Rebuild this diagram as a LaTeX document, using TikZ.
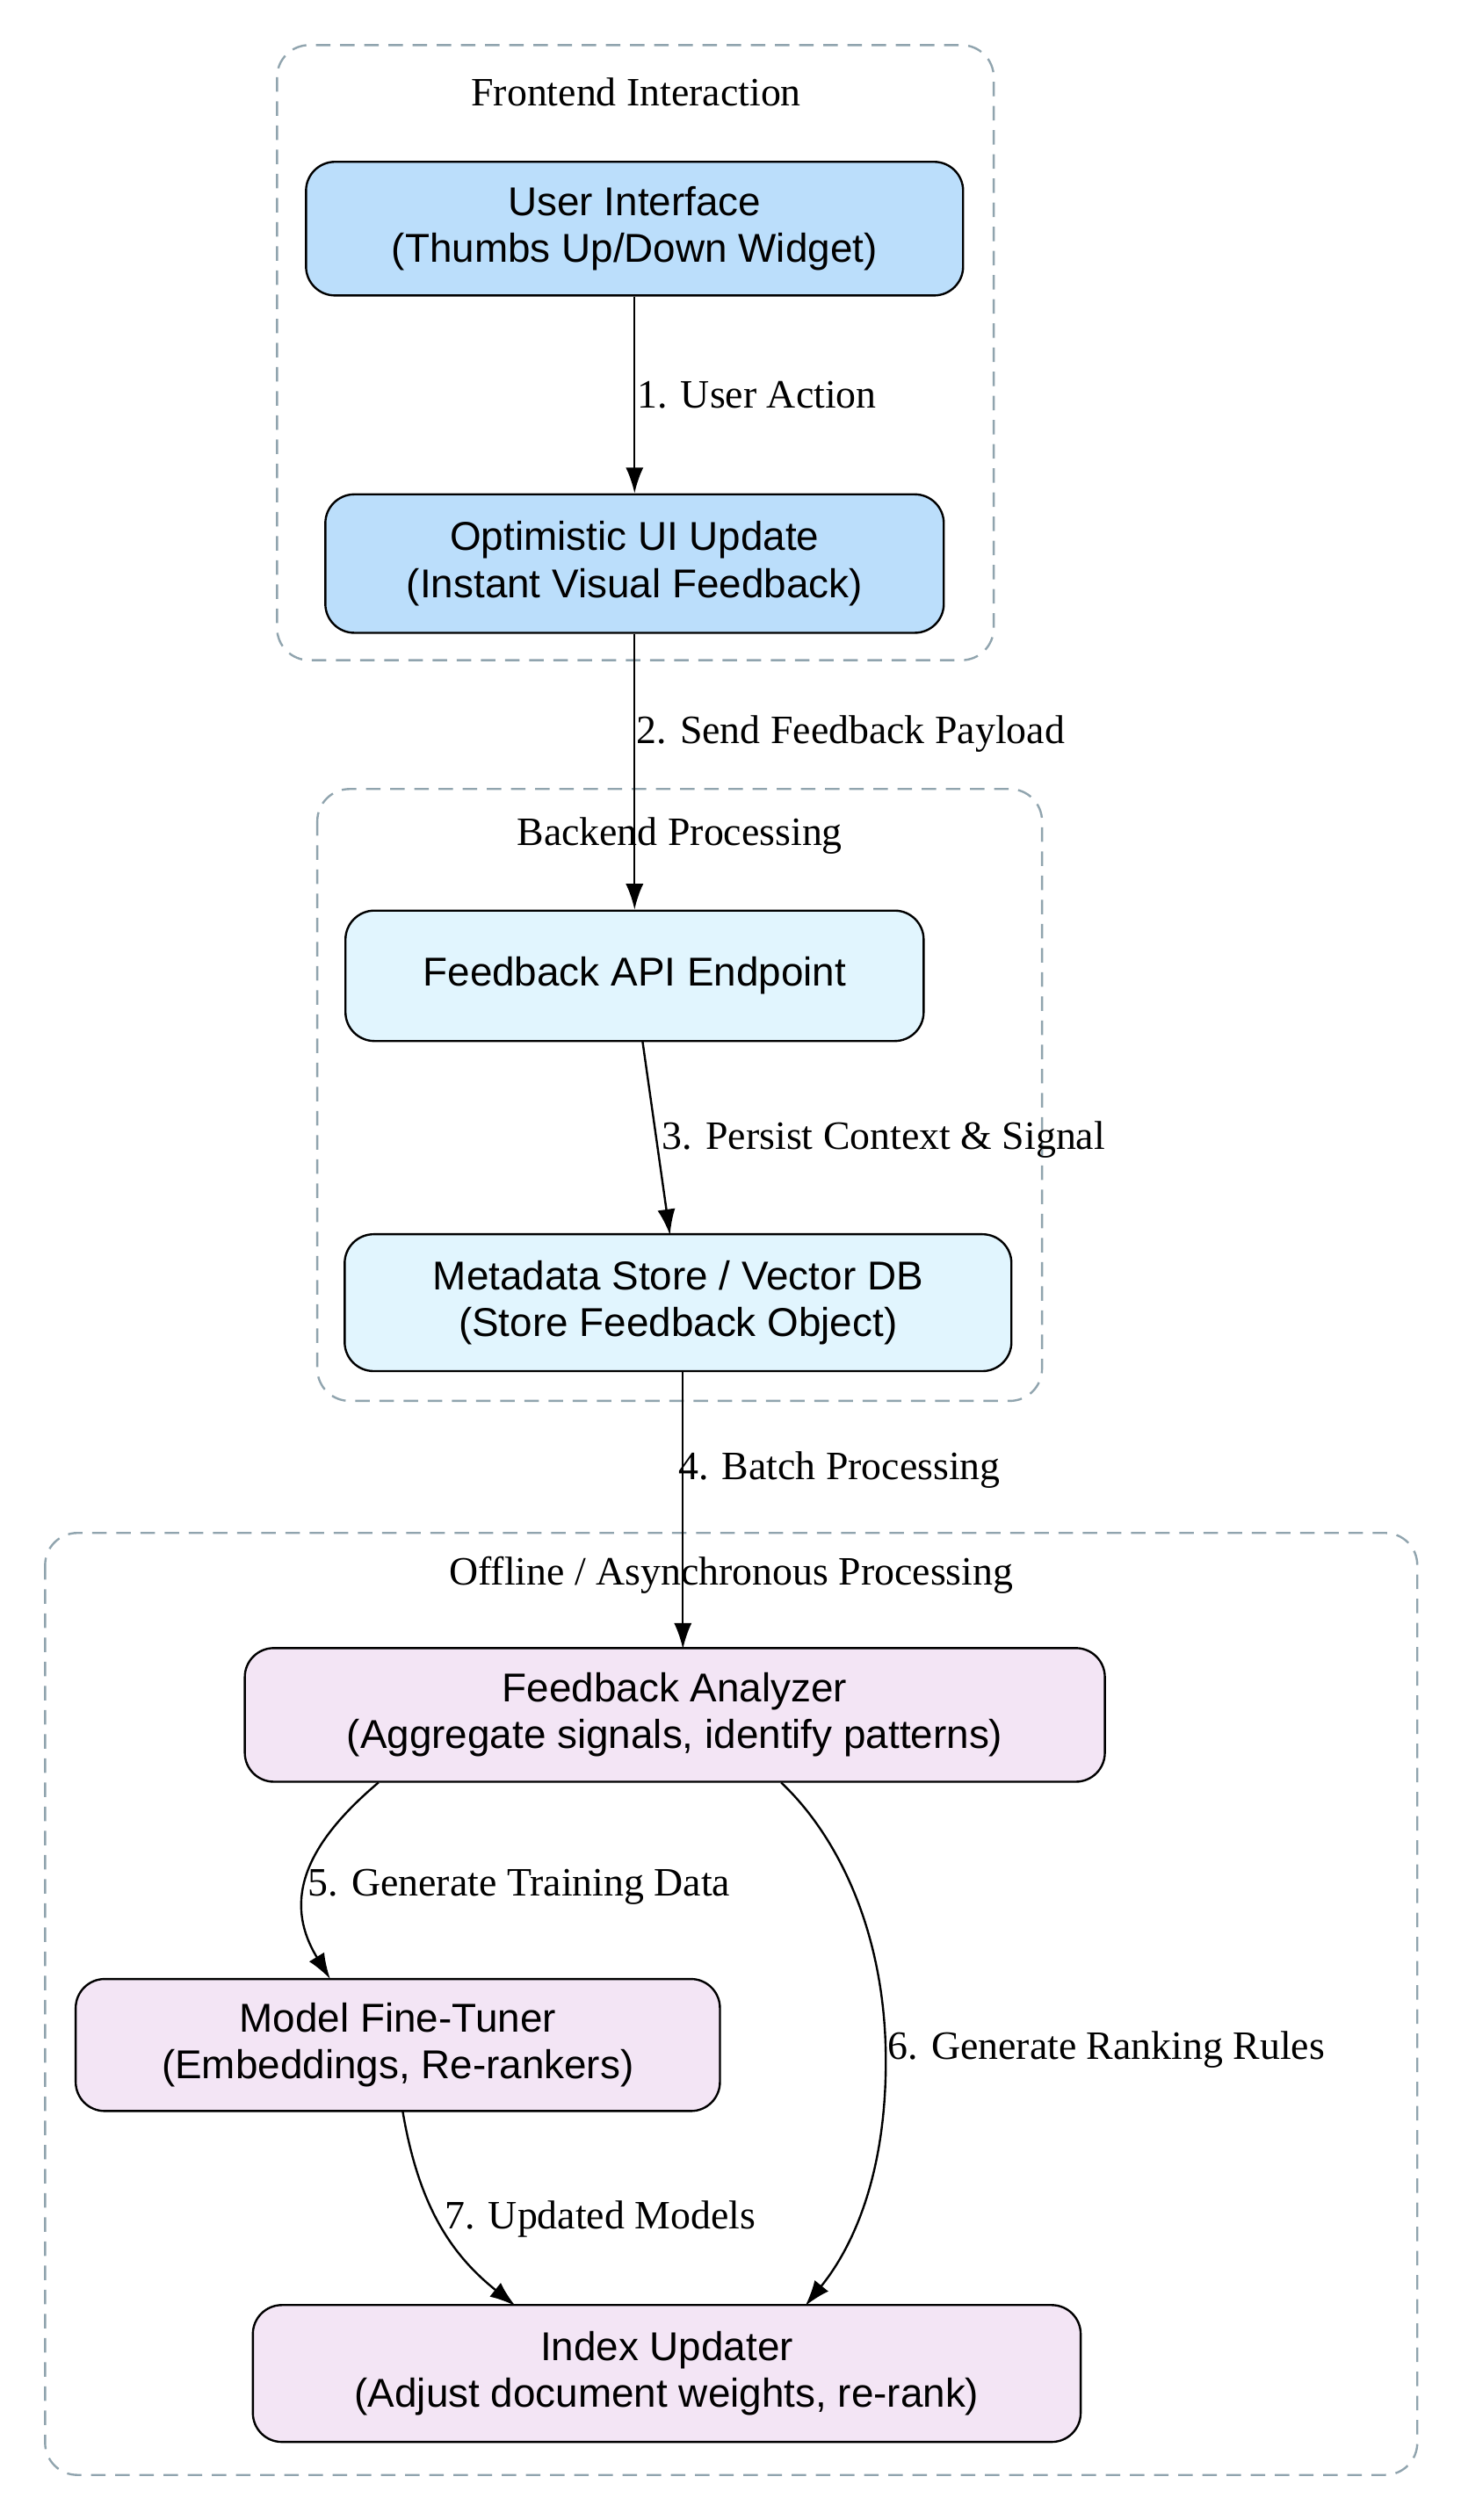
\documentclass[tikz,border=0pt]{standalone}
\usepackage{fontspec}
\setmainfont{Liberation Serif}
\newfontfamily\nodefont{Liberation Sans}
\usetikzlibrary{arrows.meta}
\definecolor{cA}{HTML}{BBDEFB}
\definecolor{cB}{HTML}{E1F5FE}
\definecolor{cC}{HTML}{F3E5F5}
\definecolor{clus}{HTML}{90A4AE}
\begin{document}
\begin{tikzpicture}[x=1pt,y=-1pt,
  box/.style={draw,line width=1.3pt,rounded corners=18pt,inner sep=0pt,align=center,font=\nodefont\fontsize{25}{29}\selectfont},
  cl/.style={draw=clus,line width=1.3pt,dash pattern=on 9pt off 6pt,rounded corners=20pt},
  ctext/.style={font=\fontsize{25}{29}\selectfont},
  el/.style={font=\fontsize{25}{29}\selectfont,anchor=west,inner sep=1pt},
  arr/.style={line width=1.3pt,-{Latex[length=16pt,width=11pt]}}]
\useasboundingbox (0,0) rectangle (907,1565);
\fill[white] (0,0) rectangle (907,1565);
\draw[cl] (172,28) rectangle (617,410);
\node[ctext] (t1) at (395,57) {Frontend Interaction};
\draw[cl] (197,490) rectangle (647,870);
\node[ctext] (t2) at (422,519) {Backend Processing};
\draw[cl] (28,952) rectangle (880,1537);
\node[ctext] (t3) at (454,978) {Offline / Asynchronous Processing};

\node[box,fill=cA,minimum width=408pt,minimum height=83pt] (ui) at (394,142) {User Interface\\(Thumbs Up/Down Widget)};
\node[box,fill=cA,minimum width=384pt,minimum height=86pt] (opt) at (394,350) {Optimistic UI Update\\(Instant Visual Feedback)};
\node[box,fill=cB,minimum width=359pt,minimum height=81pt] (api) at (394,606) {Feedback API Endpoint};
\node[box,fill=cB,minimum width=414pt,minimum height=85pt] (meta) at (421,809) {Metadata Store / Vector DB\\(Store Feedback Object)};
\node[box,fill=cC,minimum width=534pt,minimum height=83pt] (ana) at (419,1065) {Feedback Analyzer\\(Aggregate signals, identify patterns)};
\node[box,fill=cC,minimum width=400pt,minimum height=82pt] (ft) at (247,1270) {Model Fine-Tuner\\(Embeddings, Re-rankers)};
\node[box,fill=cC,minimum width=514pt,minimum height=85pt] (idx) at (414,1474) {Index Updater\\(Adjust document weights, re-rank)};

\draw[arr] (ui.south) -- (opt.north) node[el,pos=0.5] at (394,249) {1. User Action};
\draw[arr] (opt.south) -- (api.north);
\node[el] (l2) at (394,456) {2. Send Feedback Payload};
\draw[arr] (399,647) -- (416,767);
\node[el] (l3) at (410,708) {3. Persist Context \& Signal};
\draw[arr] (424,852) -- (424,1024);
\node[el] (l4) at (420,913) {4. Batch Processing};
\draw[arr] (235,1107) .. controls (190,1145) and (175,1180) .. (205,1229);
\node[el] (l5) at (190,1172) {5. Generate Training Data};
\draw[arr] (485,1107) .. controls (520,1140) and (550,1200) .. (550,1280) .. controls (550,1350) and (530,1395) .. (500,1432);
\node[el] (l6) at (550,1273) {6. Generate Ranking Rules};
\draw[arr] (250,1311) .. controls (260,1370) and (280,1400) .. (320,1432);
\node[el] (l7) at (275,1378) {7. Updated Models};
\end{tikzpicture}
\end{document}
